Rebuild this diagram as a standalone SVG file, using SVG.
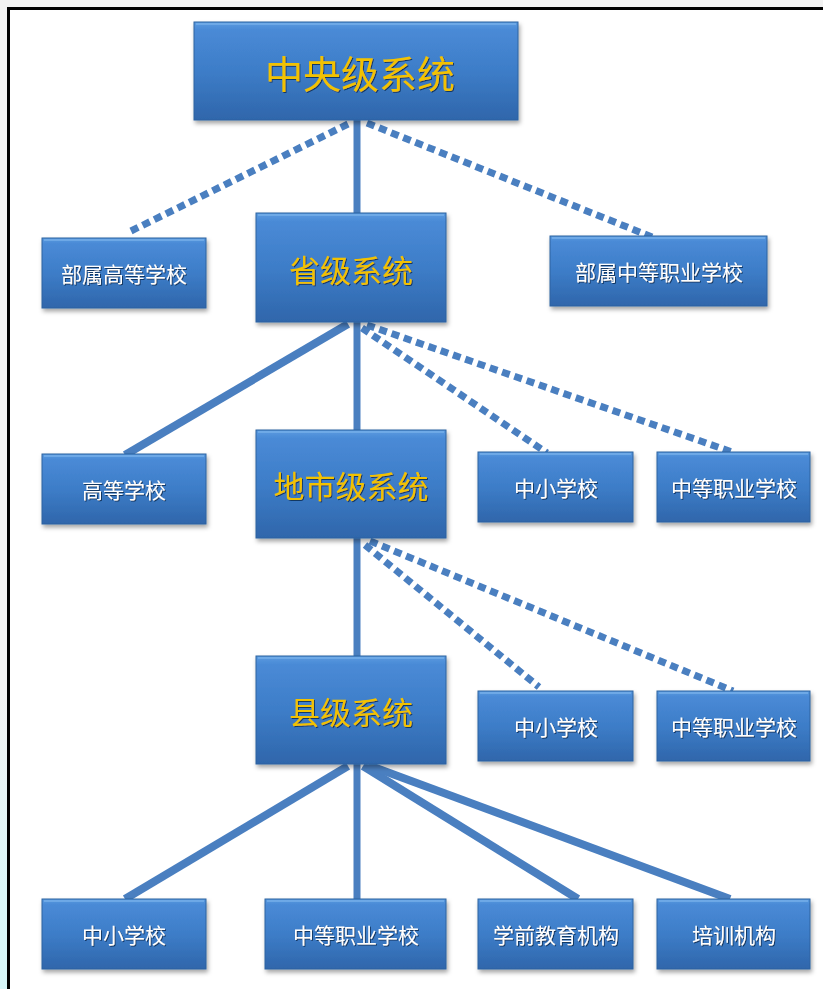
<svg xmlns="http://www.w3.org/2000/svg" width="823" height="989" viewBox="0 0 823 989">
<defs>
<linearGradient id="boxg" x1="0" y1="0" x2="0" y2="1">
<stop offset="0" stop-color="#5a9be0"/>
<stop offset="0.08" stop-color="#4a8ad6"/>
<stop offset="0.5" stop-color="#3d7dc8"/>
<stop offset="1" stop-color="#2f66ab"/>
</linearGradient>
<linearGradient id="edge" x1="0" y1="0" x2="0" y2="1">
<stop offset="0" stop-color="#f2f2f2"/>
<stop offset="0.7" stop-color="#f2f2f2"/>
<stop offset="0.9" stop-color="#daf6f8"/>
<stop offset="1" stop-color="#d6f6f8"/>
</linearGradient>
<filter id="sh" x="-10%" y="-10%" width="125%" height="130%">
<feDropShadow dx="1.5" dy="3" stdDeviation="2" flood-color="#000" flood-opacity="0.35"/>
</filter>
<filter id="ts" x="-10%" y="-10%" width="120%" height="130%">
<feDropShadow dx="1" dy="1" stdDeviation="0.7" flood-color="#10305a" flood-opacity="0.9"/>
</filter>
</defs>
<style>
.box{fill:url(#boxg);stroke:#2e62a0;stroke-width:1;filter:url(#sh)}
.hl{fill:none;stroke:#7fb6ee;stroke-width:1.5;opacity:0.8}
.big{font-family:"Noto Sans CJK SC","Noto Sans CJK JP",sans-serif;fill:#f2c200;text-anchor:middle;dominant-baseline:central;filter:url(#ts)}
.sm{font-family:"Noto Sans CJK SC","Noto Sans CJK JP",sans-serif;fill:#ffffff;font-size:21px;text-anchor:middle;dominant-baseline:central;filter:url(#ts)}
.solid{stroke:#4a7fc0;stroke-width:7;fill:none}
.diag{stroke:#4a7fc0;stroke-width:8;fill:none}
.dash{stroke:#4a7fc0;stroke-width:7;fill:none;stroke-dasharray:8 5}
</style>
<rect x="0" y="0" width="823" height="989" fill="url(#edge)"/>
<rect x="8.5" y="8.5" width="830" height="1000" fill="#ffffff" stroke="#000" stroke-width="3"/>

<g id="connectors">
<line class="solid" x1="357" y1="120" x2="357" y2="213"/>
<line class="dash" x1="348" y1="124" x2="131" y2="231"/>
<line class="dash" x1="367" y1="123" x2="652" y2="237"/>
<line class="diag" x1="348" y1="324" x2="125" y2="455"/>
<line class="solid" x1="357" y1="322" x2="357" y2="431"/>
<line class="dash" x1="362" y1="328" x2="547" y2="453"/>
<line class="dash" x1="367" y1="325" x2="735" y2="453"/>
<line class="solid" x1="357" y1="538" x2="357" y2="656"/>
<line class="dash" x1="365" y1="545" x2="539" y2="687"/>
<line class="dash" x1="370" y1="541" x2="733" y2="691"/>
<line class="diag" x1="348" y1="766" x2="125" y2="899"/>
<line class="solid" x1="357" y1="764" x2="357" y2="899"/>
<line class="diag" x1="363" y1="766" x2="578" y2="899"/>
<line class="diag" x1="368" y1="765" x2="730" y2="899"/>
</g>

<g id="n-central">
<rect class="box" x="194" y="22" width="324" height="98"/>
<line class="hl" x1="196" y1="24" x2="516" y2="24"/>
<text class="big" x="360" y="71" font-size="38">中央级系统</text>
</g>
<g id="n-bsgd">
<rect class="box" x="42" y="238" width="164" height="70"/>
<line class="hl" x1="44" y1="240" x2="204" y2="240"/>
<text class="sm" x="124" y="273">部属高等学校</text>
</g>
<g id="n-province">
<rect class="box" x="256" y="213" width="190" height="109"/>
<line class="hl" x1="258" y1="215" x2="444" y2="215"/>
<text class="big" x="351" y="268" font-size="31">省级系统</text>
</g>
<g id="n-bszz">
<rect class="box" x="550" y="236" width="217" height="70"/>
<line class="hl" x1="552" y1="238" x2="765" y2="238"/>
<text class="sm" x="659" y="271">部属中等职业学校</text>
</g>
<g id="n-gdxx">
<rect class="box" x="42" y="454" width="164" height="70"/>
<line class="hl" x1="44" y1="456" x2="204" y2="456"/>
<text class="sm" x="124" y="489">高等学校</text>
</g>
<g id="n-city">
<rect class="box" x="256" y="430" width="190" height="108"/>
<line class="hl" x1="258" y1="432" x2="444" y2="432"/>
<text class="big" x="351" y="484" font-size="31">地市级系统</text>
</g>
<g id="n-zx1">
<rect class="box" x="478" y="452" width="155" height="70"/>
<line class="hl" x1="480" y1="454" x2="631" y2="454"/>
<text class="sm" x="556" y="487">中小学校</text>
</g>
<g id="n-zz1">
<rect class="box" x="657" y="452" width="153" height="70"/>
<line class="hl" x1="659" y1="454" x2="808" y2="454"/>
<text class="sm" x="734" y="487">中等职业学校</text>
</g>
<g id="n-county">
<rect class="box" x="256" y="656" width="190" height="108"/>
<line class="hl" x1="258" y1="658" x2="444" y2="658"/>
<text class="big" x="351" y="710" font-size="31">县级系统</text>
</g>
<g id="n-zx2">
<rect class="box" x="478" y="691" width="155" height="70"/>
<line class="hl" x1="480" y1="693" x2="631" y2="693"/>
<text class="sm" x="556" y="726">中小学校</text>
</g>
<g id="n-zz2">
<rect class="box" x="657" y="691" width="153" height="70"/>
<line class="hl" x1="659" y1="693" x2="808" y2="693"/>
<text class="sm" x="734" y="726">中等职业学校</text>
</g>
<g id="n-zx3">
<rect class="box" x="42" y="899" width="164" height="70"/>
<line class="hl" x1="44" y1="901" x2="204" y2="901"/>
<text class="sm" x="124" y="934">中小学校</text>
</g>
<g id="n-zz3">
<rect class="box" x="265" y="899" width="181" height="70"/>
<line class="hl" x1="267" y1="901" x2="444" y2="901"/>
<text class="sm" x="356" y="934">中等职业学校</text>
</g>
<g id="n-xq">
<rect class="box" x="478" y="899" width="155" height="70"/>
<line class="hl" x1="480" y1="901" x2="631" y2="901"/>
<text class="sm" x="556" y="934">学前教育机构</text>
</g>
<g id="n-px">
<rect class="box" x="657" y="899" width="153" height="70"/>
<line class="hl" x1="659" y1="901" x2="808" y2="901"/>
<text class="sm" x="734" y="934">培训机构</text>
</g>
</svg>
